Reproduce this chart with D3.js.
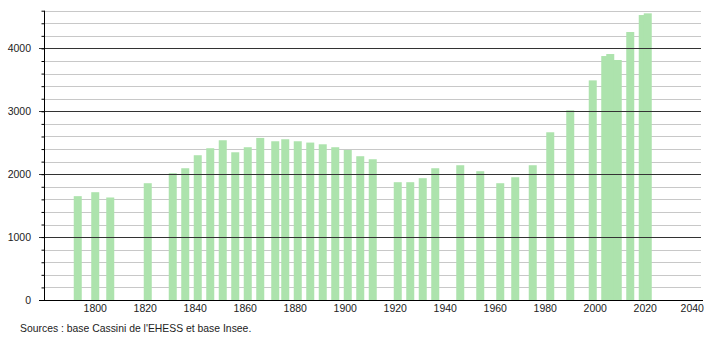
<!DOCTYPE html>
<html>
<head>
<meta charset="utf-8">
<script src="https://cdn.jsdelivr.net/npm/d3@7"></script>
<style>
  html, body { margin: 0; padding: 0; background: #fff; }
  svg { display: block; font-family: "Liberation Sans", Arial, sans-serif; }
</style>
</head>
<body>
<div id="chart"></div>
<script>
// census years and population
const years = [1793, 1800, 1806, 1821, 1831, 1836, 1841, 1846, 1851, 1856, 1861, 1866, 1872, 1876,
    1881, 1886, 1891, 1896, 1901, 1906, 1911, 1921, 1926, 1931, 1936, 1946, 1954, 1962, 1968,
    1975, 1982, 1990, 1999, 2004, 2006, 2009, 2014, 2019, 2021];
const population = [1651, 1714, 1630, 1857, 2016, 2095, 2302, 2413, 2540, 2349, 2429, 2577, 2524, 2556,
    2524, 2503, 2476, 2429, 2386, 2286, 2238, 1873, 1873, 1937, 2095, 2143, 2048, 1857, 1952,
    2143, 2667, 3016, 3492, 3879, 3911, 3816, 4261, 4531, 4558];
const xTickYears = [1800, 1820, 1840, 1860, 1880, 1900, 1920, 1940, 1960, 1980, 2000, 2020, 2040];
const yMajorTicks = [0, 1000, 2000, 3000, 4000];
const yMinorTicks = d3.range(200, 4601, 200);
const sourceText = "Sources : base Cassini de l'EHESS et base Insee.";

const width = 710, height = 340;
const barWidth = 8;

const x = d3.scaleLinear().domain([1779.5, 2043.5]).range([44, 704]);
const y = d3.scaleLinear().domain([0, 4600]).range([300, 10.7]);

const svg = d3.select("#chart").append("svg")
    .attr("width", width)
    .attr("height", height);

// grid lines (light every 200, dark every 1000)
svg.append("g")
    .selectAll("line")
    .data(yMinorTicks.filter(v => v % 1000 !== 0))
    .join("line")
    .attr("x1", 44).attr("x2", 701)
    .attr("y1", d => Math.round(y(d)) + 0.5)
    .attr("y2", d => Math.round(y(d)) + 0.5)
    .attr("stroke", "#c8c8c8")
    .attr("stroke-width", 1);

// bars
svg.append("g")
    .selectAll("rect")
    .data(years.map((yr, i) => ({year: yr, value: population[i]})))
    .join("rect")
    .attr("x", d => x(d.year) - barWidth / 2)
    .attr("width", barWidth)
    .attr("y", d => y(d.value))
    .attr("height", d => y(0) - y(d.value))
    .attr("fill", "#ade3ad");

// dark lines at each thousand, drawn over the bars
svg.append("g")
    .selectAll("line")
    .data(yMajorTicks.filter(v => v > 0))
    .join("line")
    .attr("x1", 39).attr("x2", 701)
    .attr("y1", d => Math.round(y(d)) + 0.5)
    .attr("y2", d => Math.round(y(d)) + 0.5)
    .attr("stroke", "#333")
    .attr("stroke-width", 1);

// y axis with small ticks
const yAxis = d3.axisLeft(y)
    .tickValues(yMinorTicks)
    .tickSize(3)
    .tickFormat("");
svg.append("g")
    .attr("transform", "translate(44.5,0)")
    .call(yAxis)
    .call(g => g.select(".domain").attr("d", `M0,${y(4600)}V${y(0)}`).attr("stroke", "#000"))
    .call(g => g.selectAll(".tick line").attr("stroke", "#000"));

// y labels
svg.append("g")
    .selectAll("text")
    .data(yMajorTicks)
    .join("text")
    .attr("x", 31)
    .attr("y", d => y(d))
    .attr("dy", "0.35em")
    .attr("text-anchor", "end")
    .attr("font-size", "10.5px")
    .attr("fill", "#222")
    .text(d => d);

// x axis line
svg.append("line")
    .attr("x1", 39).attr("x2", 703)
    .attr("y1", y(0) + 0.5).attr("y2", y(0) + 0.5)
    .attr("stroke", "#000")
    .attr("stroke-width", 1.2);

// x labels (last one pulled in a little, like the reference)
svg.append("g")
    .selectAll("text")
    .data(xTickYears)
    .join("text")
    .attr("x", d => d === 2040 ? x(d) - 3 : x(d))
    .attr("y", 312)
    .attr("text-anchor", "middle")
    .attr("font-size", "10.5px")
    .attr("fill", "#222")
    .text(d => d);

svg.append("text")
    .attr("x", 20)
    .attr("y", 332)
    .attr("font-size", "10.4px")
    .attr("fill", "#222")
    .text(sourceText);
</script>
</body>
</html>
